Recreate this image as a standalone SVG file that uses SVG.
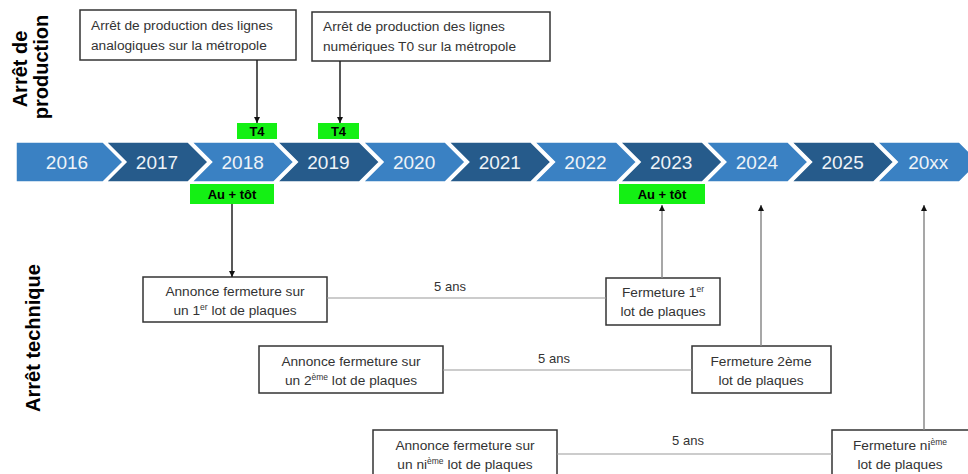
<svg xmlns="http://www.w3.org/2000/svg" width="968" height="474" viewBox="0 0 968 474">
<defs>
<style>
.lt{fill:#3a81c3;stroke:#fff;stroke-width:1.5}
.dk{fill:#265b8b;stroke:#fff;stroke-width:1.5}
.yr{font-family:"Liberation Sans",Arial,sans-serif;font-size:19px;fill:#eef3f8;text-anchor:middle}
.grn{fill:#14f014}
.gt{font-family:"Liberation Sans",Arial,sans-serif;font-size:13px;font-weight:bold;fill:#000;text-anchor:middle}
.box{fill:#fff;stroke:#333;stroke-width:1.5}
.bt{font-family:"Liberation Sans",Arial,sans-serif;font-size:13.7px;fill:#333}
.c{text-anchor:middle}
.sup{font-size:8.5px}
.side{font-family:"Liberation Sans",Arial,sans-serif;font-size:20px;font-weight:bold;fill:#000;text-anchor:middle}
.blk{stroke:#222;stroke-width:1.5;fill:none}
.gry{stroke:#8a8a8a;stroke-width:1.5;fill:none}
.thin{stroke:#9a9a9a;stroke-width:1.2;fill:none}
.lbl{font-family:"Liberation Sans",Arial,sans-serif;font-size:13px;fill:#333;text-anchor:middle}
</style>
<marker id="ah" viewBox="0 0 10 10" refX="10" refY="5" markerWidth="6" markerHeight="6" orient="auto" markerUnits="userSpaceOnUse"><path d="M0,0 L10,5 L0,10 z" fill="#111"/></marker>
</defs>
<rect width="968" height="474" fill="#fff"/>

<g id="side-labels">
<text class="side" transform="translate(27,69) rotate(-90)">Arrêt de</text>
<text class="side" transform="translate(48,67) rotate(-90)">production</text>
<text class="side" transform="translate(40,338) rotate(-90)">Arrêt technique</text>
</g>

<g id="timeline">
<g id="y2016"><polygon class="lt" points="16,142 103,142 123,162 103,182 16,182"/><text class="yr" x="67" y="169">2016</text></g>
<g id="y2017"><polygon class="dk" points="106,142 188,142 208,162 188,182 106,182 126,162"/><text class="yr" x="157" y="169">2017</text></g>
<g id="y2018"><polygon class="lt" points="191.7,142 273.7,142 293.7,162 273.7,182 191.7,182 211.7,162"/><text class="yr" x="242.7" y="169">2018</text></g>
<g id="y2019"><polygon class="dk" points="277.4,142 359.4,142 379.4,162 359.4,182 277.4,182 297.4,162"/><text class="yr" x="328.4" y="169">2019</text></g>
<g id="y2020"><polygon class="lt" points="363.1,142 445.1,142 465.1,162 445.1,182 363.1,182 383.1,162"/><text class="yr" x="414.1" y="169">2020</text></g>
<g id="y2021"><polygon class="dk" points="448.8,142 530.8,142 550.8,162 530.8,182 448.8,182 468.8,162"/><text class="yr" x="499.8" y="169">2021</text></g>
<g id="y2022"><polygon class="lt" points="534.5,142 616.5,142 636.5,162 616.5,182 534.5,182 554.5,162"/><text class="yr" x="585.5" y="169">2022</text></g>
<g id="y2023"><polygon class="dk" points="620.2,142 702.2,142 722.2,162 702.2,182 620.2,182 640.2,162"/><text class="yr" x="671.2" y="169">2023</text></g>
<g id="y2024"><polygon class="lt" points="705.9,142 787.9,142 807.9,162 787.9,182 705.9,182 725.9,162"/><text class="yr" x="756.9" y="169">2024</text></g>
<g id="y2025"><polygon class="dk" points="791.6,142 873.6,142 893.6,162 873.6,182 791.6,182 811.6,162"/><text class="yr" x="842.6" y="169">2025</text></g>
<g id="y20xx"><polygon class="lt" points="877.3,142 959.3,142 979.3,162 959.3,182 877.3,182 897.3,162"/><text class="yr" x="928.3" y="169">20xx</text></g>
</g>

<g id="tag-t4-2018"><rect class="grn" x="237" y="123" width="40" height="16"/><text class="gt" x="257" y="136">T4</text></g>
<g id="tag-t4-2019"><rect class="grn" x="318" y="123" width="41" height="16"/><text class="gt" x="338.5" y="136">T4</text></g>
<g id="tag-tot-2018"><rect class="grn" x="190" y="184" width="84" height="20"/><text class="gt" x="232" y="199">Au + tôt</text></g>
<g id="tag-tot-2023"><rect class="grn" x="619" y="184" width="86" height="20"/><text class="gt" x="662" y="199">Au + tôt</text></g>

<g id="box-analog"><rect class="box" x="80" y="10" width="216" height="50"/>
<text class="bt" x="91" y="30">Arrêt de production des lignes</text>
<text class="bt" x="91" y="50">analogiques sur la métropole</text></g>

<g id="box-numeric"><rect class="box" x="312" y="12" width="238" height="49"/>
<text class="bt" x="323" y="31">Arrêt de production des lignes</text>
<text class="bt" x="323" y="51">numériques T0 sur la métropole</text></g>

<g id="box-a1"><rect class="box" x="143" y="277" width="184" height="45"/>
<text class="bt c" x="235" y="296">Annonce fermeture sur</text>
<text class="bt c" x="235" y="315">un 1<tspan class="sup" dy="-5">er</tspan><tspan dy="5">  lot de plaques</tspan></text></g>

<g id="box-f1"><rect class="box" x="606" y="278" width="114" height="47"/>
<text class="bt c" x="663" y="297">Fermeture 1<tspan class="sup" dy="-5">er</tspan></text>
<text class="bt c" x="663" y="316">lot de plaques</text></g>

<g id="box-a2"><rect class="box" x="259" y="346" width="184" height="47"/>
<text class="bt c" x="351" y="366">Annonce fermeture sur</text>
<text class="bt c" x="351" y="385">un 2<tspan class="sup" dy="-5">ème</tspan><tspan dy="5"> lot de plaques</tspan></text></g>

<g id="box-f2"><rect class="box" x="692" y="346" width="139" height="47"/>
<text class="bt c" x="761" y="366">Fermeture 2ème</text>
<text class="bt c" x="761" y="385">lot de plaques</text></g>

<g id="box-a3"><rect class="box" x="373" y="430" width="184" height="50"/>
<text class="bt c" x="465" y="450">Annonce fermeture sur</text>
<text class="bt c" x="465" y="469">un ni<tspan class="sup" dy="-5">ème</tspan><tspan dy="5"> lot de plaques</tspan></text></g>

<g id="box-f3"><rect class="box" x="832" y="430" width="150" height="50"/>
<text class="bt c" x="900" y="450">Fermeture ni<tspan class="sup" dy="-5">ème</tspan></text>
<text class="bt c" x="900" y="469">lot de plaques</text></g>

<g id="connectors">
<line class="blk" x1="257" y1="60" x2="257" y2="123" marker-end="url(#ah)"/>
<line class="blk" x1="340" y1="61" x2="340" y2="123" marker-end="url(#ah)"/>
<line class="blk" x1="232" y1="204" x2="232" y2="277" marker-end="url(#ah)"/>
<line class="gry" x1="662" y1="278" x2="662" y2="205" marker-end="url(#ah)"/>
<line class="gry" x1="761" y1="346" x2="761" y2="205" marker-end="url(#ah)"/>
<line class="gry" x1="924" y1="430" x2="924" y2="205" marker-end="url(#ah)"/>
<line class="thin" x1="327" y1="298" x2="606" y2="298"/>
<line class="thin" x1="443" y1="370" x2="692" y2="370"/>
<line class="thin" x1="557" y1="454" x2="832" y2="454"/>
<text class="lbl" x="450" y="291">5 ans</text>
<text class="lbl" x="554" y="363">5 ans</text>
<text class="lbl" x="688" y="445">5 ans</text>
</g>
</svg>
